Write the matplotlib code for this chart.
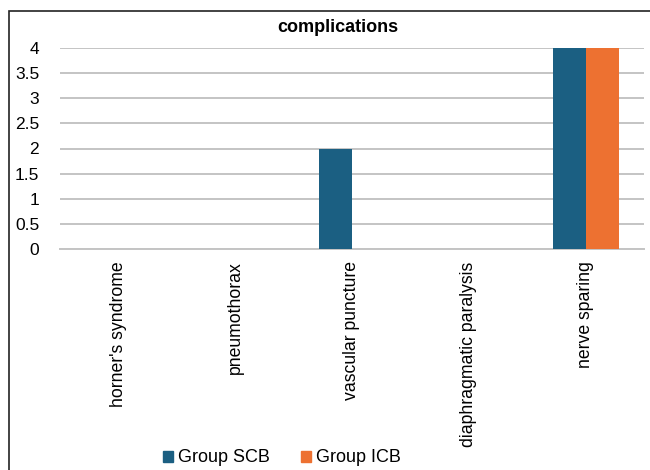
import matplotlib
matplotlib.use("Agg")
import matplotlib.pyplot as plt
import numpy as np
from matplotlib.patches import Rectangle

plt.rcParams['font.family'] = ['Liberation Sans', 'DejaVu Sans']

categories = ["horner's syndrome", "pneumothorax", "vascular puncture",
              "diaphragmatic paralysis", "nerve sparing"]
group_scb = [0, 0, 2, 0, 4]
group_icb = [0, 0, 0, 0, 4]
series_names = ["Group SCB", "Group ICB"]
yticks = [0, 0.5, 1, 1.5, 2, 2.5, 3, 3.5, 4]
ytick_labels = ["0", "0.5", "1", "1.5", "2", "2.5", "3", "3.5", "4"]

W, H = 650, 470
fig = plt.figure(figsize=(6.5, 4.7), dpi=100)

# plot area in pixel coordinates
left, right, top, bottom = 60, 644, 48, 249
ax = fig.add_axes([left / W, 1 - bottom / H, (right - left) / W, (bottom - top) / H])

x = np.arange(len(categories))
bw = 0.283
c_scb = "#1b5f82"
c_icb = "#ed7131"
ax.bar(x - bw / 2, group_scb, bw, color=c_scb, zorder=3)
ax.bar(x + bw / 2, group_icb, bw, color=c_icb, zorder=3)

ax.set_xlim(-0.5, len(categories) - 0.5)
ax.set_ylim(0, 4)
ax.set_yticks(yticks)
ax.set_yticklabels(ytick_labels, fontsize=12.5)
ax.set_xticks(x)
ax.set_xticklabels(categories, rotation=90, fontsize=12.7, va="top")
ax.tick_params(axis="both", length=0)
ax.tick_params(axis="y", pad=15)
ax.tick_params(axis="x", pad=9)

ax.yaxis.grid(True, color="#c4c4c4", linewidth=1.4, zorder=0)
for s in ["left", "right", "top"]:
    ax.spines[s].set_visible(False)
ax.spines["bottom"].set_color("#c4c4c4")
ax.spines["bottom"].set_linewidth(1.4)

fig.text(338 / W, 1 - 28 / H, "complications", ha="center", va="center",
         fontsize=13, fontweight="bold")

# outer chart frame
fig.patches.append(Rectangle((9 / W, -0.05), 1.1, 1 - 11 / H + 0.05,
                             transform=fig.transFigure, fill=False,
                             edgecolor="#222222", linewidth=1.2))

handles = [Rectangle((0, 0), 1, 1, color=c_scb), Rectangle((0, 0), 1, 1, color=c_icb)]
fig.legend(handles, series_names, loc="center", bbox_to_anchor=(282 / W, 1 - 458 / H),
           ncol=2, frameon=False, fontsize=13, handlelength=0.55, handleheight=0.55,
           handletextpad=0.3, columnspacing=1.7)

fig.savefig("out.png", dpi=100)
